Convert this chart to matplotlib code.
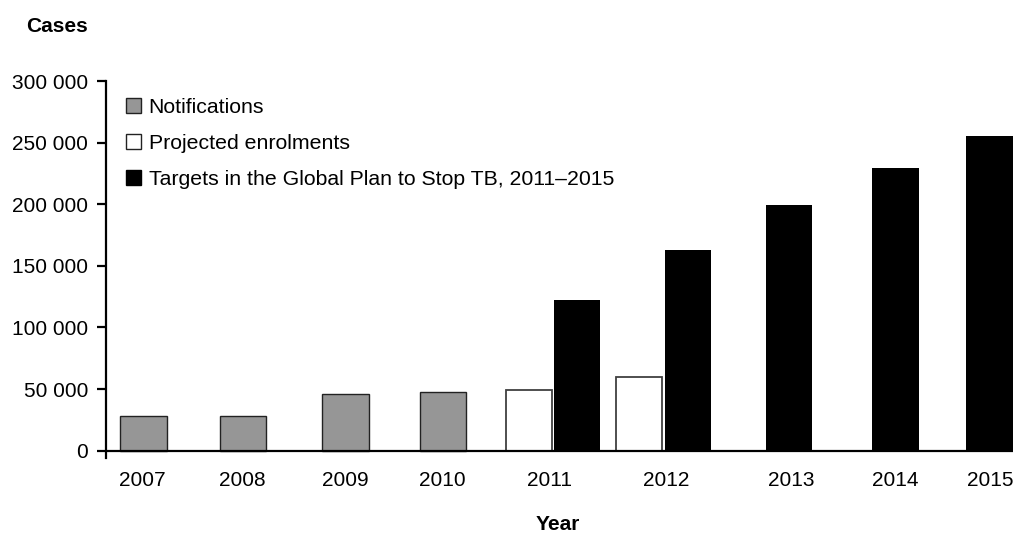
import matplotlib
matplotlib.use("Agg")
import matplotlib.pyplot as plt
from matplotlib.patches import Patch
from matplotlib.ticker import FuncFormatter, FixedLocator

plt.rcParams['font.family'] = ['Liberation Sans', 'DejaVu Sans']

# ---- data ----
years = ["2007", "2008", "2009", "2010", "2011", "2012", "2013", "2014", "2015"]
notif_years = ["2007", "2008", "2009", "2010"]
notifications = [28000, 28000, 46000, 48000]
proj_years = ["2011", "2012"]
projected = [49000, 60000]
target_years = ["2011", "2012", "2013", "2014", "2015"]
targets = [122000, 163000, 199000, 229000, 255500]
legend_labels = ["Notifications", "Projected enrolments",
                 "Targets in the Global Plan to Stop TB, 2011\u20132015"]

# ---- layout (pixel-based x positions) ----
W, H = 1013, 534
notif_pos = [143.3, 243.0, 345.3, 442.8]
proj_pos = [528.9, 639.1]
target_pos = [577.0, 688.0, 789.0, 895.7, 989.5]
label_pos = [142.3, 242.3, 345.0, 442.7, 549.7, 666.3, 791.7, 895.4, 990.0]
bar_w = 46.5

fig = plt.figure(figsize=(W / 100, H / 100), dpi=100)
ax_left, ax_right = 106, 1013
y_zero, y_top = 450.7, 81.0
ymin_px = 458.0
ymax = 300000
per_px = ymax / (y_zero - y_top)
ymin = -(ymin_px - y_zero) * per_px
ax = fig.add_axes([ax_left / W, (H - ymin_px) / H, (ax_right - ax_left) / W, (ymin_px - y_top) / H])
ax.set_xlim(ax_left, ax_right)
ax.set_ylim(ymin, ymax)

grey = "#969696"
ax.bar(notif_pos, notifications, width=bar_w, color=grey, edgecolor="#222222", linewidth=1.0, zorder=3)
ax.bar(proj_pos, projected, width=bar_w, color="white", edgecolor="#404040", linewidth=1.3, zorder=3)
ax.bar(target_pos, targets, width=bar_w, color="black", edgecolor="black", linewidth=0, zorder=3)

ax.axhline(0, color="black", linewidth=1.6, zorder=4)

for s in ["top", "right", "bottom"]:
    ax.spines[s].set_visible(False)
ax.spines["left"].set_linewidth(1.6)
ax.spines["left"].set_zorder(5)

ax.yaxis.set_major_locator(FixedLocator(list(range(0, 300001, 50000))))
ax.yaxis.set_major_formatter(FuncFormatter(lambda v, p: f"{int(v):,}".replace(",", " ")))
ax.tick_params(axis="y", length=6.5, width=1.6, pad=6.5, labelsize=15, direction="out")

ax.set_xticks(label_pos)
ax.set_xticklabels(years)
ax.tick_params(axis="x", length=0, pad=9, labelsize=15)

handles = [Patch(facecolor=grey, edgecolor="#222222", linewidth=1.0),
           Patch(facecolor="white", edgecolor="#222222", linewidth=1.0),
           Patch(facecolor="black", edgecolor="black", linewidth=1.0)]
ax.legend(handles, legend_labels, loc="upper left",
          bbox_to_anchor=(126 / W, 1 - 97.5 / H), bbox_transform=fig.transFigure,
          frameon=False, fontsize=15.3, borderpad=0, borderaxespad=0,
          handlelength=0.72, handleheight=0.72, handletextpad=0.35, labelspacing=0.8)

fig.text(56.7 / W, 1 - 26 / H, "Cases", ha="center", va="center", fontsize=15, fontweight="bold")
fig.text(557.5 / W, 1 - 524 / H, "Year", ha="center", va="center", fontsize=15, fontweight="bold")

fig.savefig("out.png", dpi=100)
